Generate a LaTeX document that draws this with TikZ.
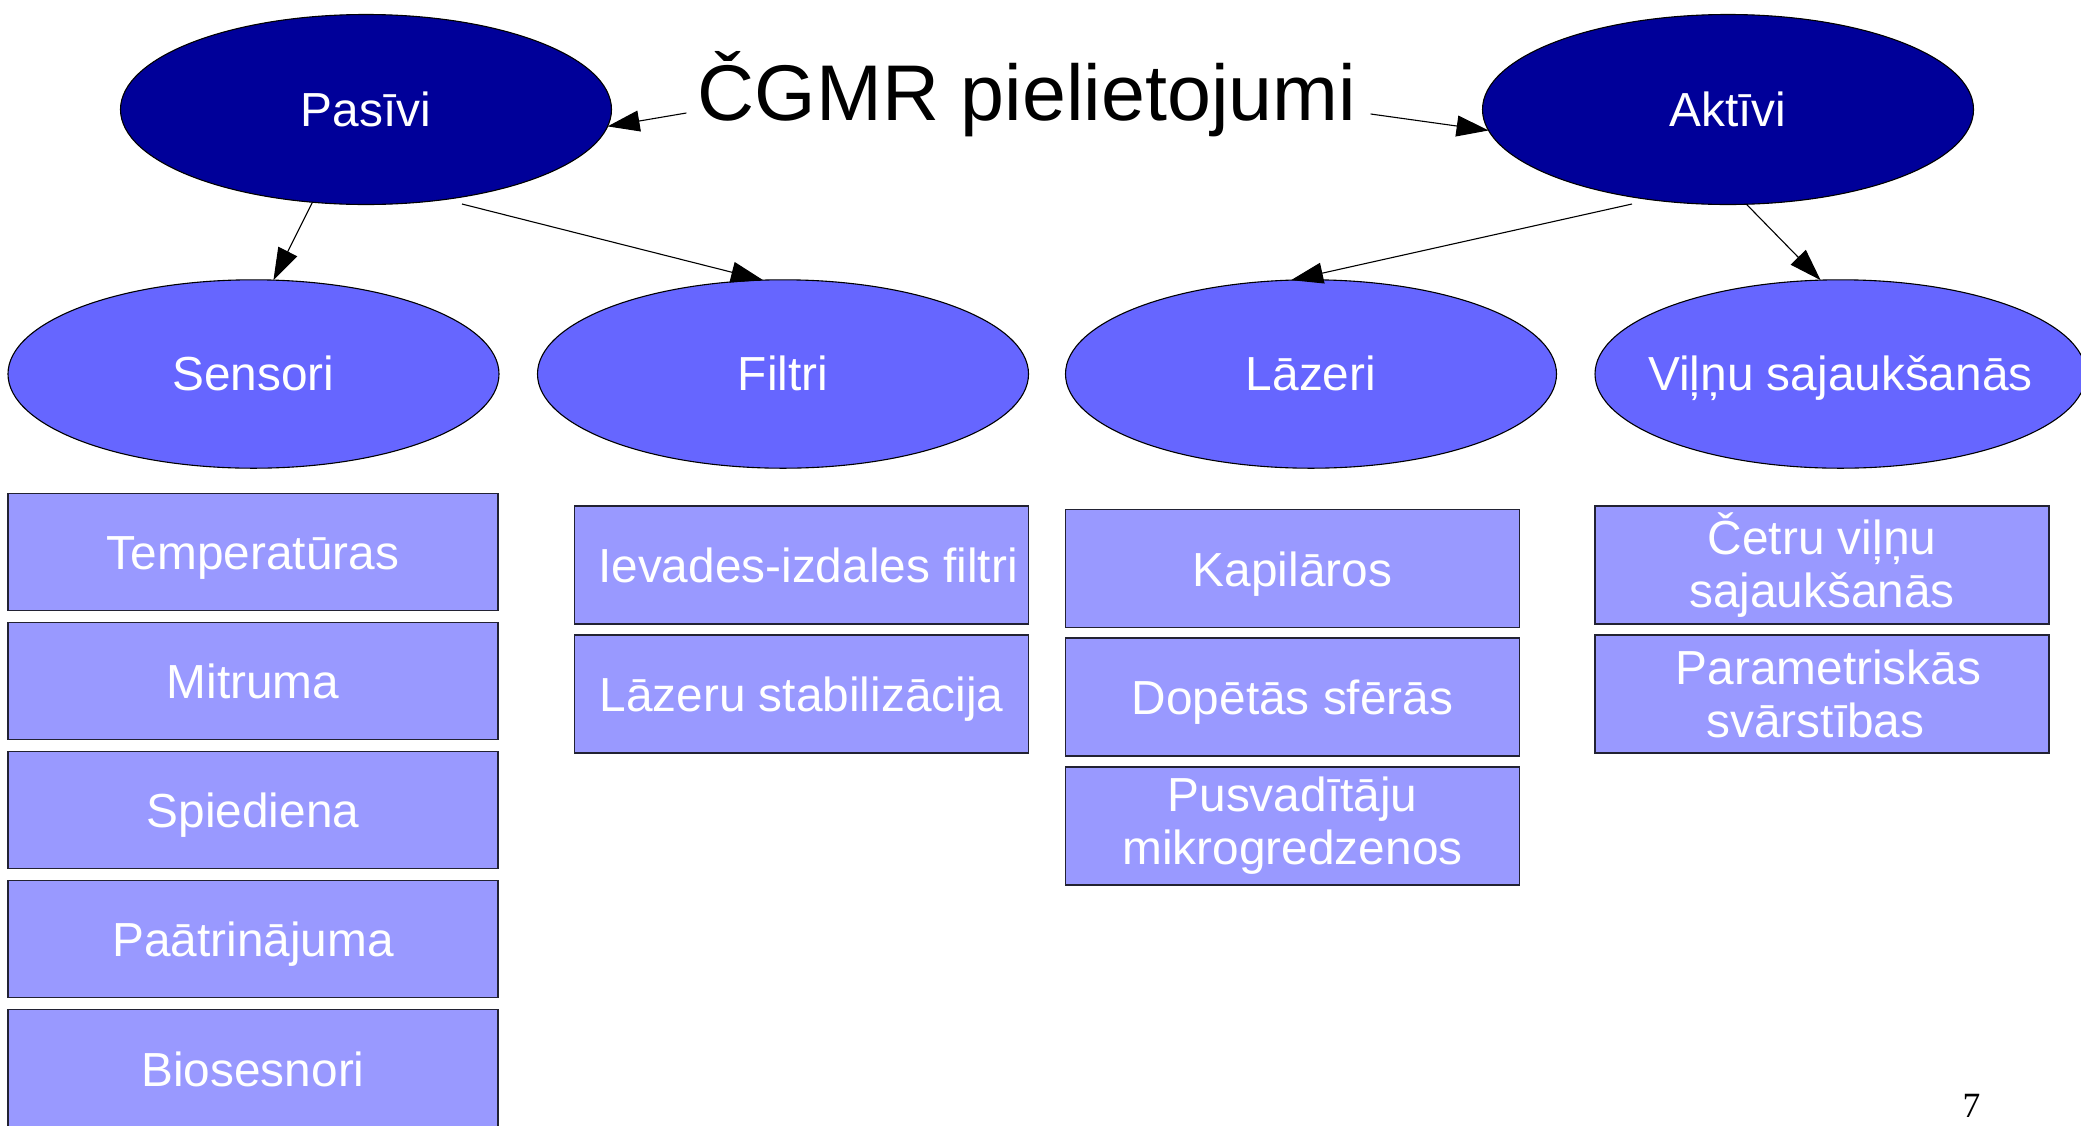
\documentclass[tikz,border=0pt]{standalone}
\usepackage{fontspec}
\setmainfont{Liberation Sans}
\newfontfamily\pgnumfont{Liberation Serif}
\usetikzlibrary{shapes.geometric,arrows.meta,calc}
\definecolor{navy}{HTML}{000099}
\definecolor{midblue}{HTML}{6666FF}
\definecolor{lightblue}{HTML}{9999FF}
\definecolor{edgec}{HTML}{222233}
\begin{document}
\begin{tikzpicture}[x=0.5pt,y=-0.5pt,
  ellbase/.style={ellipse, draw=black, line width=0.55pt, inner sep=0pt, outer sep=0pt, minimum width=245.5pt},
  topell/.style={ellbase, fill=navy, minimum height=95pt},
  subell/.style={ellbase, fill=midblue, minimum height=94.2pt},
  etxt/.style={text=white, font=\fontsize{23.9}{26.5}\selectfont, inner sep=0pt, text height=16.5pt, text depth=0pt},
  box/.style={draw=edgec, line width=0.55pt, fill=lightblue, text=white, font=\fontsize{23.9}{26.5}\selectfont, align=center, inner sep=0pt, outer sep=0pt},
  colA/.style={box, minimum width=245pt, minimum height=58.75pt},
  colB/.style={box, minimum width=227pt, minimum height=59pt},
  one/.style={text height=17.5pt, text depth=0pt},
  arr/.style={-{Triangle[length=16pt,width=10.5pt]}, line width=0.55pt, black}
]
\useasboundingbox (0,0) rectangle (2081,1125);
\clip (0,0) rectangle (2081,1125);
\fill[white] (0,0) rectangle (2081,1125);

% title
\node[font=\fontsize{39.5}{45}\selectfont, inner sep=0pt, anchor=base] (title) at (1027,120) {ČGMR pielietojumi};

% top ellipses
\node[topell, label={[etxt]center:Pasīvi}] (pasivi) at (366,109.5) {};
\node[topell, label={[etxt]center:Aktīvi}] (aktivi) at (1728,109.5) {};

% second level
\node[subell, label={[etxt]center:Sensori}] (sensori) at (253.5,374) {};
\node[subell, label={[etxt]center:Filtri}] (filtri) at (783,374) {};
\node[subell, label={[etxt]center:Lāzeri}] (lazeri) at (1311,374) {};
\node[subell, label={[etxt]center:Viļņu sajaukšanās}] (vilnu) at (1840.5,374) {};

% Sensori column
\node[colA, one] (temp) at (253,552) {Temperatūras};
\node[colA, one] (mitr) at (253,681) {Mitruma};
\node[colA, one] (spied) at (253,810) {Spiediena};
\node[colA, one] (paatr) at (253,939) {Paātrinājuma};
\node[colA, one] (bio) at (253,1068.5) {Biosesnori};

% Filtri column
\node[colB, one] (ievad) at (801.5,565) {\hspace*{6.5pt}Ievades-izdales filtri};
\node[colB, one] (lstab) at (801.5,694) {Lāzeru stabilizācija};

% Lazeri column
\node[colB, one] (kapil) at (1292.5,568.5) {Kapilāros};
\node[colB, one] (dopet) at (1292.5,697) {Dopētās sfērās};
\node[colB] (pusv) at (1292.5,826) {Pusvadītāju\\mikrogredzenos};

% Vilnu column
\node[colB] (cetru) at (1822,565) {Četru viļņu\\sajaukšanās};
\node[colB] (param) at (1822,694) {\hspace*{6.5pt}Parametriskās\\svārstības\hspace*{6.5pt}};

% connectors
\draw[arr] ($(title.base west)+(-11,-7)$) -- (pasivi.-4.5);
\draw[arr] ($(title.base east)+(14,-6)$) -- (aktivi.-175.5);
\draw[arr] (pasivi.-120) -- (sensori.78);
\draw[arr] ($(pasivi.center)+(96,94.5)$) -- (filtri.102);
\draw[arr] ($(aktivi.center)+(-96,94.5)$) -- (lazeri.102);
\draw[arr] (aktivi.-79) -- (vilnu.102);

% page number
\node[font=\pgnumfont\fontsize{17.75}{20}\selectfont, inner sep=0pt, anchor=base] (pg) at (1971.5,1117) {7};
\end{tikzpicture}
\end{document}
